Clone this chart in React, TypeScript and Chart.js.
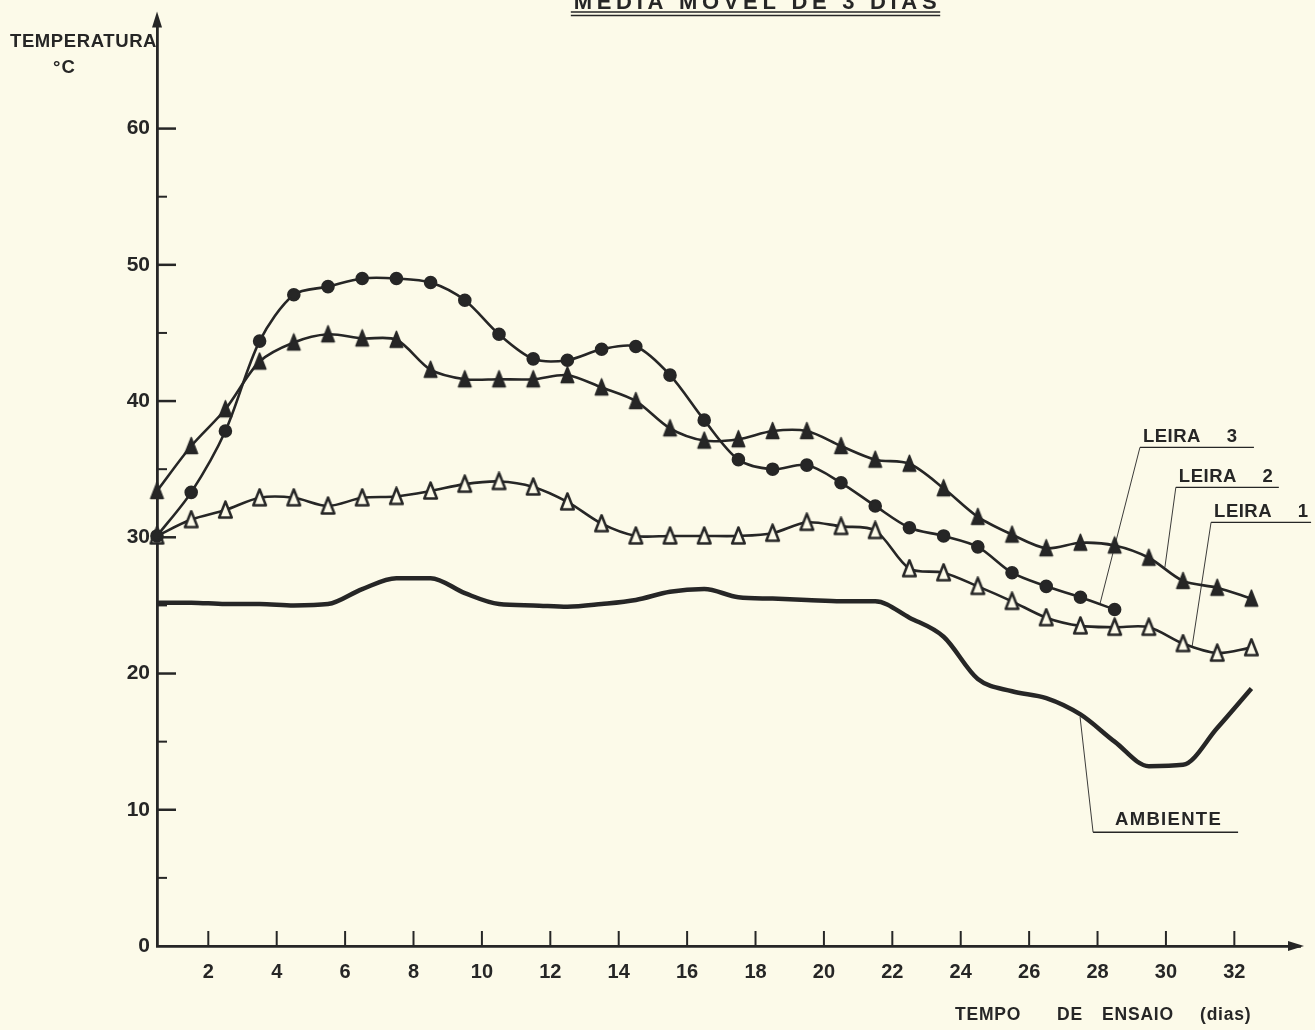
import { useEffect, useRef } from "react";
import { Chart, registerables } from "chart.js";

Chart.register(...registerables);

// ---- data ----
const DAYS = [0.5, 1.5, 2.5, 3.5, 4.5, 5.5, 6.5, 7.5, 8.5, 9.5, 10.5, 11.5, 12.5, 13.5, 14.5, 15.5, 16.5, 17.5, 18.5, 19.5, 20.5, 21.5, 22.5, 23.5, 24.5, 25.5, 26.5, 27.5, 28.5, 29.5, 30.5, 31.5, 32.5];
const LEIRA1 = [30.1, 31.3, 32.0, 32.9, 32.9, 32.3, 32.9, 33.0, 33.4, 33.9, 34.1, 33.7, 32.6, 31.0, 30.1, 30.1, 30.1, 30.1, 30.3, 31.1, 30.8, 30.5, 27.7, 27.4, 26.4, 25.3, 24.1, 23.5, 23.4, 23.4, 22.2, 21.5, 21.9];
const LEIRA2 = [33.4, 36.7, 39.4, 42.9, 44.3, 44.9, 44.6, 44.5, 42.3, 41.6, 41.6, 41.6, 41.9, 41.0, 40.0, 38.0, 37.1, 37.2, 37.8, 37.8, 36.7, 35.7, 35.4, 33.6, 31.5, 30.2, 29.2, 29.6, 29.4, 28.5, 26.8, 26.3, 25.5];
const LEIRA3 = [30.1, 33.3, 37.8, 44.4, 47.8, 48.4, 49.0, 49.0, 48.7, 47.4, 44.9, 43.1, 43.0, 43.8, 44.0, 41.9, 38.6, 35.7, 35.0, 35.3, 34.0, 32.3, 30.7, 30.1, 29.3, 27.4, 26.4, 25.6, 24.7];
const AMBIENTE = [25.2, 25.2, 25.1, 25.1, 25.0, 25.1, 26.2, 27.0, 27.0, 25.9, 25.1, 25.0, 24.9, 25.1, 25.4, 26.0, 26.2, 25.6, 25.5, 25.4, 25.3, 25.3, 24.1, 22.7, 19.6, 18.7, 18.2, 17.0, 15.0, 13.2, 13.3, 16.0, 18.9];

const X_TICKS = [2, 4, 6, 8, 10, 12, 14, 16, 18, 20, 22, 24, 26, 28, 30, 32];
const Y_TICKS = [0, 10, 20, 30, 40, 50, 60];
const Y_MINOR = [5, 15, 25, 35, 45, 55];

const TITLE = "MÉDIA MÓVEL DE 3 DIAS";
const Y_TITLE = "TEMPERATURA";
const Y_UNIT = "°C";
const X_TITLE_WORDS = ["TEMPO", "DE", "ENSAIO", "(dias)"];
const SERIES_NAMES = ["LEIRA 3", "LEIRA 2", "LEIRA 1", "AMBIENTE"];

// ---- styling / layout ----
const INK = "#262626";
const PAPER = "#FCFAE9";
const FONT = "'Liberation Sans', Arial, sans-serif";

// label callouts in data units: underline start (day, temp), underline length px, leader end (day, temp)
const CALLOUTS = [
  { name: SERIES_NAMES[0], ux: 29.24, uy: 36.6, len: 114, ex: 28.07, ey: 25.1 },
  { name: SERIES_NAMES[1], ux: 30.29, uy: 33.67, len: 103, ex: 29.97, ey: 27.8 },
  { name: SERIES_NAMES[2], ux: 31.32, uy: 31.1, len: 100, ex: 30.76, ey: 21.9 },
  { name: SERIES_NAMES[3], ux: 27.87, uy: 8.35, len: 145, ex: 27.49, ey: 16.8 },
];

const toXY = (vals: number[]) => vals.map((v, i) => ({ x: DAYS[i], y: v }));

// narrow, cone-like triangle marker as a small canvas
function makeTriangle(filled: boolean) {
  const c = document.createElement("canvas");
  c.width = 17;
  c.height = 20;
  const g = c.getContext("2d")!;
  g.lineJoin = "round";
  g.beginPath();
  g.moveTo(8.5, 1.5);
  g.lineTo(2.2, 17.5);
  g.lineTo(14.8, 17.5);
  g.closePath();
  g.fillStyle = filled ? INK : PAPER;
  g.fill();
  g.strokeStyle = INK;
  g.lineWidth = filled ? 1.5 : 2.5;
  g.stroke();
  return c;
}

function txt(ctx: CanvasRenderingContext2D, s: string, x: number, y: number, size: number, align: CanvasTextAlign = "left", spacing = 0) {
  ctx.save();
  ctx.font = `bold ${size}px ${FONT}`;
  (ctx as any).letterSpacing = `${spacing}px`;
  ctx.textAlign = align;
  ctx.textBaseline = "alphabetic";
  ctx.fillStyle = INK;
  ctx.fillText(s, x, y);
  ctx.restore();
}

function seg(ctx: CanvasRenderingContext2D, x1: number, y1: number, x2: number, y2: number, w: number) {
  ctx.lineWidth = w;
  ctx.beginPath();
  ctx.moveTo(x1, y1);
  ctx.lineTo(x2, y2);
  ctx.stroke();
}

const decor = {
  id: "decor",
  afterDraw(chart: any) {
    const { ctx, chartArea, scales } = chart;
    const { left, right, top, bottom } = chartArea;
    const xs = scales.x;
    const ys = scales.y;
    ctx.save();
    ctx.strokeStyle = INK;
    ctx.fillStyle = INK;

    // inner ticks
    Y_TICKS.forEach((v) => {
      if (v === 0) return;
      const py = ys.getPixelForValue(v);
      seg(ctx, left, py, left + 19, py, 2.5);
    });
    Y_MINOR.forEach((v) => {
      const py = ys.getPixelForValue(v);
      seg(ctx, left, py, left + 10, py, 2);
    });
    X_TICKS.forEach((v) => {
      const px = xs.getPixelForValue(v);
      seg(ctx, px, bottom, px, bottom - 15, 2);
    });

    // arrow heads
    ctx.beginPath();
    ctx.moveTo(left, top - 8);
    ctx.lineTo(left - 5, top + 8);
    ctx.lineTo(left + 5, top + 8);
    ctx.closePath();
    ctx.fill();
    ctx.beginPath();
    ctx.moveTo(right + 4, bottom);
    ctx.lineTo(right - 12, bottom - 5);
    ctx.lineTo(right - 12, bottom + 5);
    ctx.closePath();
    ctx.fill();

    // title (top is cut off in the reference)
    const tx1 = xs.getPixelForValue(12.6);
    const tx2 = xs.getPixelForValue(23.4);
    txt(ctx, TITLE, (tx1 + tx2) / 2 + 2, 9, 22, "center", 4.7);
    seg(ctx, tx1, 12, tx2, 12, 1.6);
    seg(ctx, tx1, 15.5, tx2, 15.5, 1.6);

    // axis titles
    txt(ctx, Y_TITLE, left - 147, 47, 18.5, "left", 0.6);
    txt(ctx, Y_UNIT, left - 104, 73, 18.5, "left", 1);
    const xw = [955, 1057, 1102, 1200];
    X_TITLE_WORDS.forEach((w, i) => txt(ctx, w, xw[i], 1020, 17.5, "left", 0.8));

    // callouts
    CALLOUTS.forEach((c) => {
      const ux = xs.getPixelForValue(c.ux);
      const uy = ys.getPixelForValue(c.uy);
      const ex = xs.getPixelForValue(c.ex);
      const ey = ys.getPixelForValue(c.ey);
      seg(ctx, ux, uy, ux + c.len, uy, 1.3);
      seg(ctx, ux, uy, ex, ey, 0.9);
      if (c.name === "AMBIENTE") {
        txt(ctx, c.name, ux + 22, uy - 7, 18.5, "left", 1.3);
      } else {
        const parts = c.name.split(" ");
        txt(ctx, parts[0], ux + 3, uy - 5, 18.5, "left", 0.5);
        txt(ctx, parts[1], ux + 97, uy - 5, 18.5, "right", 0);
      }
    });
    ctx.restore();
  },
};

export default function App() {
  const ref = useRef<HTMLCanvasElement | null>(null);

  useEffect(() => {
    document.body.style.margin = "0";
    document.body.style.background = PAPER;
    const canvas = ref.current;
    if (!canvas) return;
    const tickFont = { family: FONT, size: 20, weight: "bold" as const };
    const filledTri = makeTriangle(true);
    const openTri = makeTriangle(false);
    const chart = new Chart(canvas, {
      type: "line",
      data: {
        datasets: [
          {
            label: SERIES_NAMES[0],
            data: toXY(LEIRA3),
            borderColor: INK,
            borderWidth: 2.6,
            pointStyle: "circle",
            pointRadius: 5.5,
            pointBackgroundColor: INK,
            pointBorderColor: INK,
            tension: 0.3,
            clip: false,
          },
          {
            label: SERIES_NAMES[1],
            data: toXY(LEIRA2),
            borderColor: INK,
            borderWidth: 2.6,
            pointStyle: filledTri as any,
            pointRadius: 8,
            tension: 0.3,
            clip: false,
          },
          {
            label: SERIES_NAMES[2],
            data: toXY(LEIRA1),
            borderColor: INK,
            borderWidth: 2.6,
            pointStyle: openTri as any,
            pointRadius: 8,
            tension: 0.3,
            clip: false,
          },
          {
            label: SERIES_NAMES[3],
            data: toXY(AMBIENTE),
            borderColor: INK,
            borderWidth: 4.5,
            pointRadius: 0,
            cubicInterpolationMode: "monotone",
            clip: false,
          },
        ],
      },
      options: {
        responsive: false,
        animation: false,
        events: [],
        layout: { padding: { left: 0, top: 17, right: 15, bottom: 0 } },
        plugins: { legend: { display: false }, tooltip: { enabled: false }, title: { display: false } },
        scales: {
          x: {
            type: "linear",
            min: 0.5,
            max: 33.92,
            afterBuildTicks: (s: any) => {
              s.ticks = X_TICKS.map((v) => ({ value: v }));
            },
            afterFit: (s: any) => {
              s.height = 84;
            },
            ticks: { font: tickFont, color: INK, padding: 14, maxRotation: 0, autoSkip: false },
            grid: { display: false, drawTicks: false },
            border: { display: true, color: INK, width: 2.8 },
          },
          y: {
            type: "linear",
            min: 0,
            max: 68,
            afterBuildTicks: (s: any) => {
              s.ticks = Y_TICKS.map((v) => ({ value: v }));
            },
            afterFit: (s: any) => {
              s.width = 157;
            },
            ticks: { font: { ...tickFont, size: 21 }, color: INK, padding: 7 },
            grid: { display: false, drawTicks: false },
            border: { display: true, color: INK, width: 2.8 },
          },
        },
      },
      plugins: [decor],
    });
    return () => chart.destroy();
  }, []);

  return (
    <div style={{ position: "absolute", left: 0, top: 0, width: 1315, height: 1030, background: PAPER }}>
      <canvas ref={ref} width={1315} height={1030} style={{ display: "block" }} />
    </div>
  );
}
